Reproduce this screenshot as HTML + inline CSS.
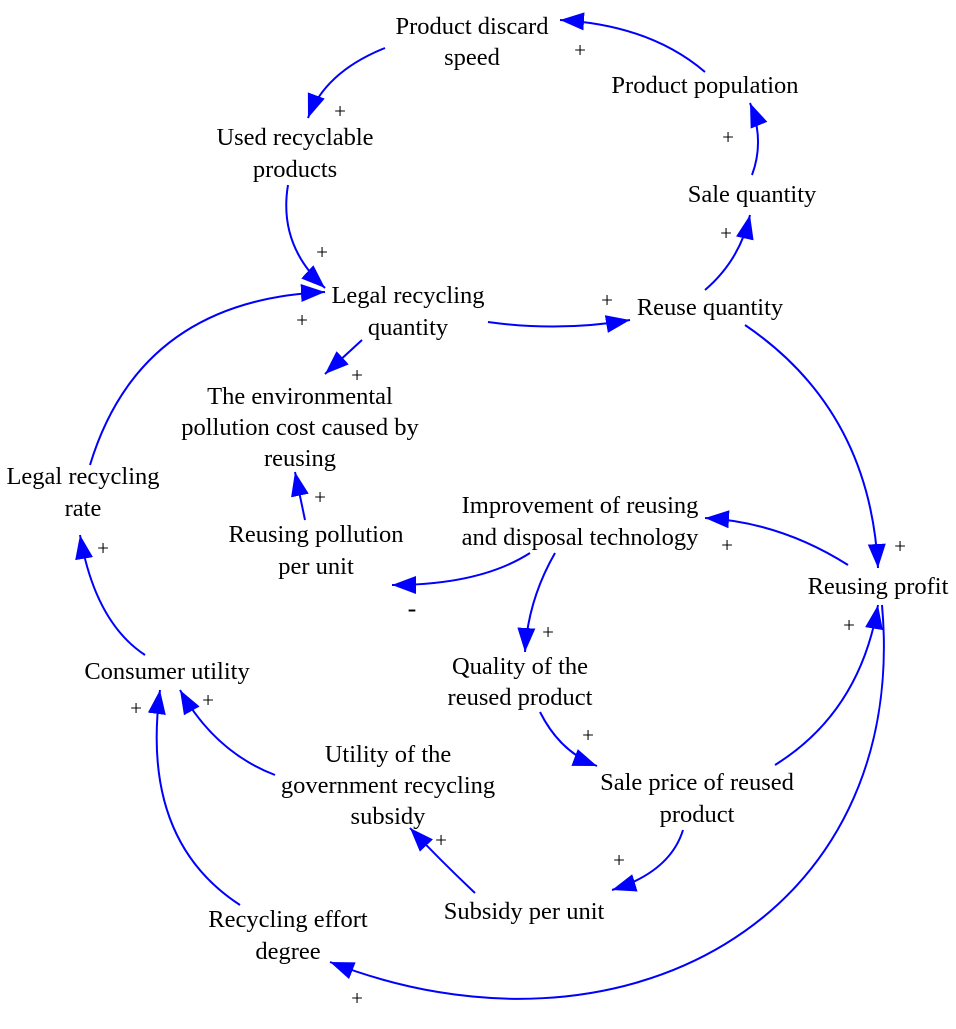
<!DOCTYPE html>
<html><head><meta charset="utf-8"><style>
html,body{margin:0;padding:0;background:#fff;}
svg text{font-family:"Liberation Serif",serif;font-size:24.5px;fill:#000;text-anchor:middle;}
svg text.p{font-size:21px;}
</style></head><body>
<svg width="956" height="1024" viewBox="0 0 956 1024" xmlns="http://www.w3.org/2000/svg">
<defs>
<marker id="a" markerUnits="userSpaceOnUse" markerWidth="26" markerHeight="20" refX="24" refY="9" orient="auto">
<path d="M0,0 L24,9 L0,18 z" fill="#0000ff"/>
</marker>
</defs>
<g fill="none" stroke="#0000ff" stroke-width="2" marker-end="url(#a)">
<path d="M705,72 Q650,25 560,20"/>
<path d="M385,48 Q325,72 308,118"/>
<path d="M288,185 Q278,245 325,288"/>
<path d="M90,465 Q140,300 325,292"/>
<path d="M488,322 Q560,332 630,320"/>
<path d="M362,340 L325,374"/>
<path d="M705,290 Q740,260 750,215"/>
<path d="M752,175 Q765,140 750,103"/>
<path d="M745,325 Q870,410 878,568"/>
<path d="M305,520 L295,472"/>
<path d="M530,553 Q480,585 392,585"/>
<path d="M555,553 Q528,600 525,652"/>
<path d="M848,565 Q780,522 705,518"/>
<path d="M540,712 Q560,752 597,766"/>
<path d="M775,765 Q860,712 878,605"/>
<path d="M683,830 Q670,872 612,890"/>
<path d="M475,893 Q440,860 410,828"/>
<path d="M275,775 Q215,752 180,690"/>
<path d="M145,655 Q95,622 80,535"/>
<path d="M240,905 Q140,840 160,690"/>
<path d="M882,605 C910,920 620,1075 330,962"/>
</g>
<text x="472" y="34">Product discard</text><text x="472" y="65">speed</text>
<text x="705" y="93">Product population</text>
<text x="295" y="145">Used recyclable</text><text x="295" y="177">products</text>
<text x="752" y="202">Sale quantity</text>
<text x="408" y="303">Legal recycling</text><text x="408" y="335">quantity</text>
<text x="710" y="315">Reuse quantity</text>
<text x="300" y="404">The environmental</text><text x="300" y="435">pollution cost caused by</text><text x="300" y="466">reusing</text>
<text x="83" y="484">Legal recycling</text><text x="83" y="516">rate</text>
<text x="580" y="513">Improvement of reusing</text><text x="580" y="545">and disposal technology</text>
<text x="316" y="542">Reusing pollution</text><text x="316" y="574">per unit</text>
<text x="878" y="594">Reusing profit</text>
<text x="520" y="674">Quality of the</text><text x="520" y="705">reused product</text>
<text x="167" y="679">Consumer utility</text>
<text x="388" y="762">Utility of the</text><text x="388" y="793">government recycling</text><text x="388" y="824">subsidy</text>
<text x="697" y="790">Sale price of reused</text><text x="697" y="822">product</text>
<text x="524" y="919">Subsidy per unit</text>
<text x="288" y="927">Recycling effort</text><text x="288" y="959">degree</text>
<g>
<text class="p" x="580" y="57">+</text><text class="p" x="340" y="118">+</text><text class="p" x="322" y="259">+</text>
<text class="p" x="302" y="327">+</text><text class="p" x="607" y="307">+</text><text class="p" x="357" y="382">+</text>
<text class="p" x="320" y="504">+</text><text class="p" x="728" y="144">+</text><text class="p" x="726" y="240">+</text>
<text class="p" x="900" y="553">+</text><text class="p" x="727" y="552">+</text><text class="p" x="548" y="639">+</text>
<text class="p" x="849" y="632">+</text><text class="p" x="588" y="742">+</text><text class="p" x="103" y="555">+</text>
<text class="p" x="208" y="707">+</text><text class="p" x="136" y="715">+</text><text class="p" x="441" y="847">+</text>
<text class="p" x="619" y="867">+</text><text class="p" x="357" y="1005">+</text>
<text x="412" y="617" style="font-size:26px">-</text>
</g>
</svg>
</body></html>
